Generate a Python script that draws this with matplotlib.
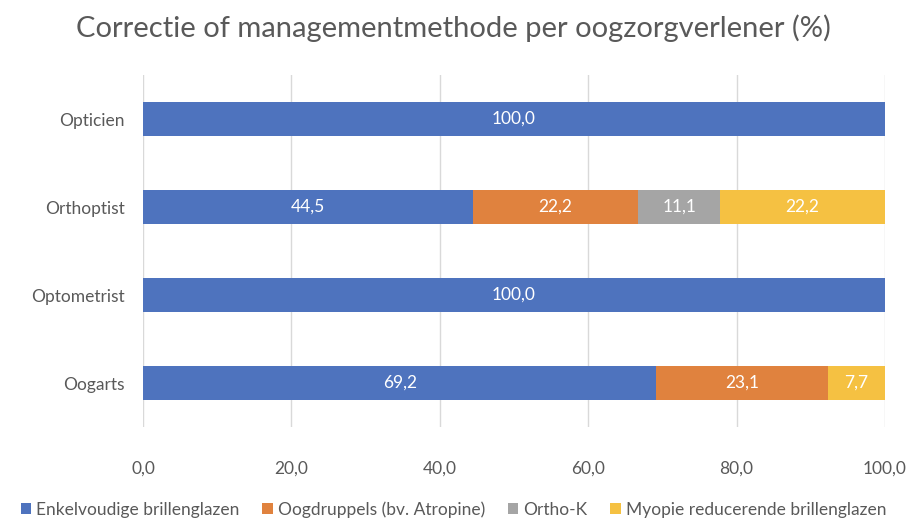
import matplotlib.pyplot as plt
import numpy as np

plt.rcParams['font.family'] = ['Lato', 'DejaVu Sans']

categories = ["Oogarts", "Optometrist", "Orthoptist", "Opticien"]
series = ["Enkelvoudige brillenglazen", "Oogdruppels (bv. Atropine)", "Ortho-K",
          "Myopie reducerende brillenglazen"]
enkelvoudig = [69.2, 100.0, 44.5, 100.0]
oogdruppels = [23.1, 0.0, 22.2, 0.0]
ortho_k = [0.0, 0.0, 11.1, 0.0]
myopie = [7.7, 0.0, 22.2, 0.0]
xticks = [0, 20, 40, 60, 80, 100]

colors = ["#4E73BE", "#E0823E", "#A5A5A5", "#F5C142"]
text_col = "#595959"

fig = plt.figure(figsize=(9.07, 5.18), dpi=100)
ax = fig.add_axes([0.1577, 0.1757, 0.818, 0.6793])

y = np.arange(len(categories))
left = np.zeros(len(categories))
for vals, name, c in zip([enkelvoudig, oogdruppels, ortho_k, myopie], series, colors):
    vals = np.array(vals)
    bars = ax.barh(y, vals, left=left, height=0.386, color=c, label=name, zorder=3)
    for b, v in zip(bars, vals):
        if v > 0:
            ax.text(b.get_x() + b.get_width() / 2, b.get_y() + b.get_height() / 2,
                    f"{v:.1f}".replace(".", ","), ha="center", va="center",
                    color="white", fontsize=12.5, zorder=4)
    left += vals

ax.set_xlim(0, 100)
ax.set_ylim(-0.5, 3.5)
ax.set_yticks(y)
ax.set_yticklabels(categories, fontsize=12.5, color=text_col)
ax.set_xticks(xticks)
ax.set_xticklabels([f"{t:.1f}".replace(".", ",") for t in xticks], fontsize=12.5, color=text_col)
ax.tick_params(length=0, pad=13)
ax.tick_params(axis="x", pad=24)
ax.grid(axis="x", color="#D9D9D9", linewidth=1, zorder=0)
for s in ax.spines.values():
    s.set_visible(False)

fig.text(0.5, 0.945, "Correctie of managementmethode per oogzorgverlener (%)",
         ha="center", va="center", fontsize=21, color=text_col)

fig.legend(loc="lower center", bbox_to_anchor=(0.5, -0.03), ncol=4, frameon=False,
           fontsize=12.5, handlelength=0.6, handleheight=0.6, handletextpad=0.3,
           columnspacing=1.3, labelcolor=text_col)

fig.savefig("out.png", dpi=100)
